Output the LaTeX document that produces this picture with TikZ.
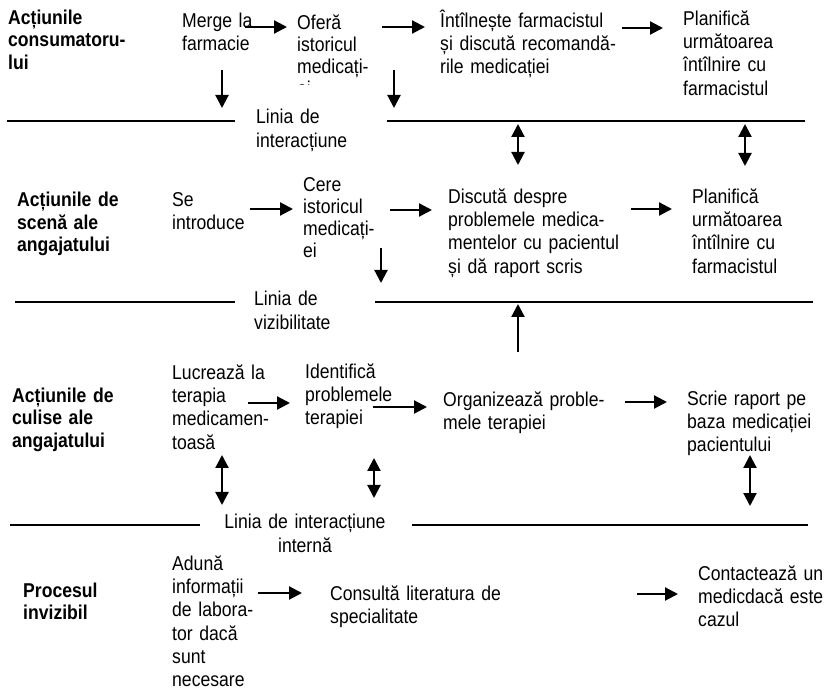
\documentclass[tikz,border=0pt]{standalone}
\usepackage{fontspec}
\setmainfont{Liberation Sans}[FakeStretch=0.88]
\usetikzlibrary{arrows.meta}
\begin{document}
\begin{tikzpicture}[x=1pt,y=-1pt,
  txt/.style={anchor=base west, inner sep=0pt, align=left, text width=#1,
    font=\fontsize{20}{23.2}\selectfont},
  txt/.default=260pt,
  lane/.style={txt=200pt, font=\fontsize{20}{22.5}\selectfont\bfseries},
  tight/.style={font=\fontsize{20}{22}\selectfont},
  linelbl/.style={txt=220pt, font=\fontsize{20}{24}\selectfont},
  flow/.style={-{Triangle[length=13pt,width=13pt]}, line width=2.2pt},
  both/.style={{Triangle[length=13pt,width=13pt]}-{Triangle[length=13pt,width=13pt]}, line width=2.2pt},
  sepline/.style={line width=1.8pt}]

\fill[white] (0,0) rectangle (825,700);
\useasboundingbox (0,0) rectangle (825,700);

% ---------- lane titles ----------
\node[lane] (lane1) at (8,24.5)  {Acțiunile\\consumatoru-\\lui};
\node[lane] (lane2) at (17,207) {Acțiunile de\\scenă ale\\angajatului};
\node[lane] (lane3) at (12,402.5) {Acțiunile de\\culise ale\\angajatului};
\node[lane] (lane4) at (23,597) {Procesul\\invizibil};

% ---------- consumer actions ----------
\node[txt] (merge) at (182,27.5) {Merge la\\farmacie};
\begin{scope}
  \clip (290,0) rectangle (380,84.5);
  \node[txt, tight] (ofera) at (297,29.5) {Oferă\\istoricul\\medicați-\\ei};
\end{scope}
\node[txt] (intal) at (440,27.5) {Întîlnește farmacistul\\și discută recomandă-\\rile medicației};
\node[txt] (plan1) at (683,25.5) {Planifică\\următoarea\\întîlnire cu\\farmacistul};

% ---------- onstage actions ----------
\node[txt] (intro) at (172,206.5) {Se\\introduce};
\node[txt, tight] (cere)  at (303,191.5) {Cere\\istoricul\\medicați-\\ei};
\node[txt] (disc)  at (448,203.5) {Discută despre\\problemele medica-\\mentelor cu pacientul\\și dă raport scris};
\node[txt] (plan2) at (692,203.5) {Planifică\\următoarea\\întîlnire cu\\farmacistul};

% ---------- backstage actions ----------
\begin{scope}
  \clip (160,340) rectangle (290,451);
  \node[txt] (lucr) at (172,379.5) {Lucrează la\\terapia\\medicamen-\\toasă};
\end{scope}
\node[txt] (ident) at (305,378.5) {Identifică\\problemele\\terapiei};
\node[txt] (organ) at (443,406.5) {Organizează proble-\\mele terapiei};
\node[txt] (scrie) at (687,405.5) {Scrie raport pe\\baza medicației\\pacientului};

% ---------- support processes ----------
\node[txt] (aduna)   at (172,570.5) {Adună\\informații\\de labora-\\tor dacă\\sunt\\necesare};
\node[txt] (consult) at (330,600.5) {Consultă literatura de\\specialitate};
\node[txt] (contact) at (698,580.5) {Contactează un\\medicdacă este\\cazul};

% ---------- separating lines and their labels ----------
\node[linelbl] (l1) at (256,124) {Linia de\\interacțiune};
\node[linelbl] (l2) at (254,306) {Linia de\\vizibilitate};
\node[linelbl, align=center, anchor=base] (l3) at (305,529) {Linia de interacțiune\\internă};

\coordinate (s1a) at (7,121);   \coordinate (s1b) at (235,121);
\coordinate (s1c) at (387,121); \coordinate (s1d) at (805,121);
\coordinate (s2a) at (15,302);  \coordinate (s2b) at (235,302);
\coordinate (s2c) at (375,302); \coordinate (s2d) at (813,302);
\coordinate (s3a) at (10,525);  \coordinate (s3b) at (200,525);
\coordinate (s3c) at (412,525); \coordinate (s3d) at (808,525);
\draw[sepline] (s1a) -- (s1b) (s1c) -- (s1d);
\draw[sepline] (s2a) -- (s2b) (s2c) -- (s2d);
\draw[sepline] (s3a) -- (s3b) (s3c) -- (s3d);

% ---------- flow arrows ----------
\coordinate (f1a) at (245,27);  \coordinate (f1b) at (287,27);
\coordinate (f2a) at (382,27);  \coordinate (f2b) at (425,27);
\coordinate (f3a) at (622,28);  \coordinate (f3b) at (663,28);
\coordinate (d1a) at (222,70);  \coordinate (d1b) at (222,108);
\coordinate (d2a) at (394,70);  \coordinate (d2b) at (394,108);
\draw[flow] (f1a) -- (f1b);
\draw[flow] (f2a) -- (f2b);
\draw[flow] (f3a) -- (f3b);
\draw[flow] (d1a) -- (d1b);
\draw[flow] (d2a) -- (d2b);

\coordinate (b1a) at (518,124); \coordinate (b1b) at (518,165);
\coordinate (b2a) at (745,124); \coordinate (b2b) at (745,166);
\draw[both] (b1a) -- (b1b);
\draw[both] (b2a) -- (b2b);

\coordinate (g1a) at (250,209); \coordinate (g1b) at (293,209);
\coordinate (g2a) at (390,210); \coordinate (g2b) at (432,210);
\coordinate (g3a) at (631,209); \coordinate (g3b) at (672,209);
\coordinate (d3a) at (381,248); \coordinate (d3b) at (381,283);
\coordinate (u1a) at (518,352); \coordinate (u1b) at (518,304);
\draw[flow] (g1a) -- (g1b);
\draw[flow] (g2a) -- (g2b);
\draw[flow] (g3a) -- (g3b);
\draw[flow] (d3a) -- (d3b);
\draw[flow] (u1a) -- (u1b);

\coordinate (h1a) at (248,403); \coordinate (h1b) at (290,403);
\coordinate (h2a) at (373,407); \coordinate (h2b) at (427,407);
\coordinate (h3a) at (625,402); \coordinate (h3b) at (667,402);
\draw[flow] (h1a) -- (h1b);
\draw[flow] (h2a) -- (h2b);
\draw[flow] (h3a) -- (h3b);

\coordinate (b3a) at (222,455); \coordinate (b3b) at (222,505);
\coordinate (b4a) at (374,458); \coordinate (b4b) at (374,498);
\coordinate (b5a) at (750,455); \coordinate (b5b) at (750,506);
\draw[both] (b3a) -- (b3b);
\draw[both] (b4a) -- (b4b);
\draw[both] (b5a) -- (b5b);

\coordinate (k1a) at (258,593); \coordinate (k1b) at (302,593);
\coordinate (k2a) at (637,594); \coordinate (k2b) at (678,594);
\draw[flow] (k1a) -- (k1b);
\draw[flow] (k2a) -- (k2b);

\end{tikzpicture}
\end{document}
